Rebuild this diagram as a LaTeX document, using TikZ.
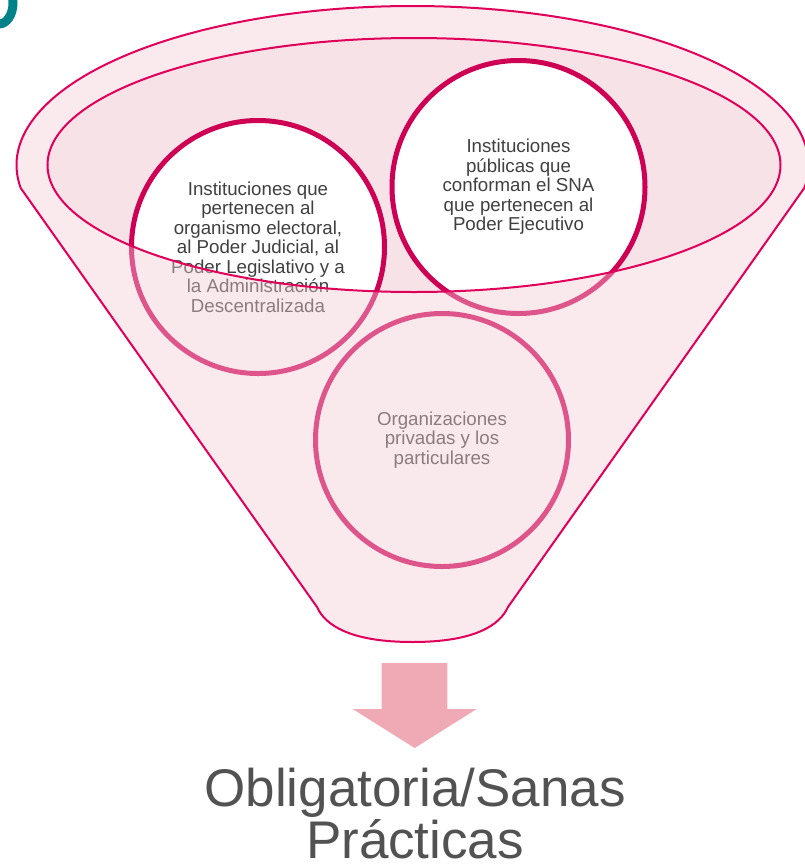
\documentclass[tikz,border=0pt]{standalone}
\usepackage{fontspec}
\setmainfont{Liberation Sans}
\definecolor{funnelred}{RGB}{224,0,90}
\definecolor{ringred}{RGB}{206,0,84}
\definecolor{funnelpink}{RGB}{243,203,212}
\definecolor{innerpink}{RGB}{247,226,231}
\definecolor{arrowpink}{RGB}{239,170,181}
\definecolor{textgrey}{RGB}{64,64,64}
\definecolor{titlegrey}{RGB}{82,82,82}
\definecolor{titleteal}{RGB}{0,130,138}
\tikzset{
	ring/.style={circle, draw=ringred, line width=5pt, fill=white, minimum size=253pt,
		inner sep=0pt, align=center, text=textgrey, font=\fontsize{18.7}{19.5}\selectfont},
	rim/.style={draw=funnelred, line width=2pt},
}

\begin{document}
\begin{tikzpicture}[x=1pt, y=-1pt]
			%%%%% START %%%%%
			\useasboundingbox (0, 0) rectangle (804, 868);
			
			% piece of the title letter, cut by the page
			\begin{scope}
				\clip (0, 0) rectangle (804, 868);
				\draw[line width=9pt, color=titleteal] (-1, 3) ellipse (14 and 21);
			\end{scope}
			
			% mouth of the funnel
			\fill[innerpink] (414, 165) ellipse (366.5 and 127);
			
			\node[ring] (judicial) at (258, 247) {Instituciones que\\pertenecen al\\organismo electoral,\\al Poder Judicial, al\\Poder Legislativo y a\\la Administración\\Descentralizada};
			\node[ring] (ejecutivo) at (518.5, 187) {Instituciones\\públicas que\\conforman el SNA\\que pertenecen al\\Poder Ejecutivo};
			\node[ring] (privadas) at (442, 440) {Organizaciones\\privadas y los\\particulares};
			
			% body of the funnel, seen through
			\path[rim, fill=funnelpink, fill opacity=0.424, even odd rule]
				(804.3, 188) arc (8.32:-188.32:396 and 159) -- (317, 607)
				.. controls (325, 625) and (350, 642) .. (412.5, 642)
				.. controls (475, 642) and (500, 625) .. (508, 607) -- cycle
				(414, 165) ellipse (366.5 and 127);
			
			\fill[arrowpink] (381.7, 663) -- (447.3, 663) -- (447.3, 709) -- (476.7, 709)
				-- (414.7, 748) -- (352.7, 709) -- (381.7, 709) -- cycle;
			
			\node[text=titlegrey, font=\fontsize{53}{52}\selectfont, align=center, inner sep=0pt] (resultado) at (415, 814) {Obligatoria/Sanas\\Prácticas};
			
			%%%%% END %%%%%
\end{tikzpicture}
\end{document}
